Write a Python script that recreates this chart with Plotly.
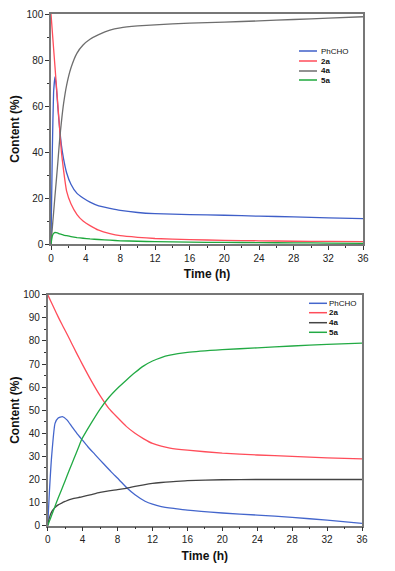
import plotly.graph_objects as go

# ---------------- data ----------------
series_names = ["PhCHO", "2a", "4a", "5a"]

# top panel
t_top = [0, 0.15, 0.3, 0.46, 0.6, 0.8, 1.0, 1.2, 1.45, 1.8, 2.3, 3, 3.7, 4.5, 5.5, 6.8,
         8, 10, 12, 16, 20, 24, 28, 32, 36]
top_phcho = [0, 40, 66, 72.7, 69, 59, 50, 43, 37, 31, 26, 22, 20, 18.2, 16.6, 15.5,
             14.6, 13.7, 13.2, 12.8, 12.5, 12.1, 11.8, 11.4, 11]
top_2a = [100, 92.5, 85, 77, 70, 60, 50, 40, 32, 23, 17.5, 12.8, 10, 8, 6, 4.5,
          3.6, 2.9, 2.4, 1.9, 1.6, 1.4, 1.2, 1.1, 1.0]
top_4a = [0, 7, 13.6, 21, 27, 36, 45.5, 53, 61, 69, 76.5, 83, 86.5, 89, 91, 93,
          94, 94.8, 95.3, 96, 96.5, 97, 97.6, 98.2, 98.8]
top_5a = [0, 3.5, 4.6, 5.0, 4.9, 4.7, 4.4, 4.2, 3.9, 3.6, 3.2, 2.8, 2.5, 2.2, 1.95, 1.65,
          1.4, 1.2, 1.0, 0.8, 0.7, 0.6, 0.5, 0.4, 0.3]

# bottom panel
t_bot_phcho = [0, 0.2, 0.45, 0.84, 1.2, 1.68, 2.2, 2.75, 3.3, 3.9, 4.6, 5.4, 6.4, 7.3, 8.2,
               9.05, 10, 11.15, 12, 13, 14.6, 16, 20, 24, 28, 32, 36]
bot_phcho = [0, 15, 30, 44.3, 46.6, 47.2, 45.8, 43, 40.2, 37.4, 34.2, 30.9, 26.8, 23.2,
             19.8, 16.4, 13.4, 10.6, 9.3, 8.3, 7.4, 6.7, 5.5, 4.6, 3.6, 2.4, 1.0]

t_bot = [0, 0.2, 0.45, 0.8, 1.2, 1.6, 2, 2.5, 3, 3.5, 3.9, 5, 6, 7, 8, 9, 10, 11, 12,
         13, 14, 16, 20, 24, 28, 32, 36]
bot_2a = [100, 98.4, 96.4, 93.6, 90.4, 87.4, 84.5, 80.8, 77, 73.3, 70.4, 62.7, 56.3,
          50.8, 46.8, 43, 40, 37.6, 35.6, 34.4, 33.6, 32.7, 31.4, 30.6, 30, 29.4, 28.9]
bot_4a = [0, 3.5, 6, 7.7, 9, 9.8, 10.5, 11.3, 11.8, 12.2, 12.5, 13.5, 14.4, 15.1, 15.6,
          16.2, 17, 17.7, 18.3, 18.7, 19.0, 19.5, 19.9, 20, 20, 20, 20]
bot_5a = [0, 2, 4.5, 8, 12, 15.7, 19.5, 24.3, 29, 33.6, 37.4, 44.5, 50.5, 55.5, 59.5,
          63, 66.3, 69.2, 71.3, 72.8, 73.8, 75, 76.2, 77, 77.8, 78.5, 79]

x_ticks = [0, 4, 8, 12, 16, 20, 24, 28, 32, 36]

# ---------------- styling ----------------
PAGE_OFF = 8          # default page margin around the figure
W, H = 395 - PAGE_OFF, 571 - PAGE_OFF
colors_top = ["#3f5fc8", "#ff4d5a", "#6e6e6e", "#1ea83c"]
colors_bot = ["#4466cc", "#ff4d5a", "#444444", "#22aa44"]
FONT = "Liberation Sans, Arial, sans-serif"


def px_x(p):
    return (p - PAGE_OFF) / W


def px_y(p):
    return 1 - (p - PAGE_OFF) / H


fig = go.Figure()

top_vals = [top_phcho, top_2a, top_4a, top_5a]
bot_series = [(t_bot_phcho, bot_phcho), (t_bot, bot_2a), (t_bot, bot_4a), (t_bot, bot_5a)]

for name, vals, col in zip(series_names, top_vals, colors_top):
    fig.add_trace(go.Scatter(x=t_top, y=vals, name=name, mode="lines",
                             line=dict(color=col, width=1.3, shape="spline", smoothing=0.4),
                             xaxis="x", yaxis="y", showlegend=False))
for name, (tt, vals), col in zip(series_names, bot_series, colors_bot):
    fig.add_trace(go.Scatter(x=tt, y=vals, name=name, mode="lines",
                             line=dict(color=col, width=1.3, shape="spline", smoothing=0.5),
                             xaxis="x2", yaxis="y2", showlegend=False))

axis_common = dict(showgrid=False, zeroline=False, showline=True, mirror=True,
                   linecolor="#777", linewidth=1.5, ticks="outside", ticklen=4,
                   tickcolor="#333", tickwidth=1, automargin=False,
                   tickfont=dict(family=FONT, size=10, color="#222"))

title_font = dict(family=FONT, size=12, color="#111")

fig.update_layout(
    width=W, height=H, autosize=False,
    margin=dict(l=0, r=0, t=0, b=0),
    paper_bgcolor="white", plot_bgcolor="white",
    xaxis=dict(domain=[px_x(51), px_x(363)], range=[0, 36], anchor="y",
               tickvals=x_ticks, minor=dict(ticks="outside", dtick=2, ticklen=2, tickcolor="#333"),
               title=dict(text="<b>Time (h)</b>", font=title_font, standoff=7),
               **axis_common),
    yaxis=dict(domain=[px_y(244), px_y(14)], range=[0, 100], anchor="x",
               dtick=20, minor=dict(ticks="outside", dtick=10, ticklen=2, tickcolor="#333"),
               title=dict(text="<b>Content (%)</b>", font=title_font, standoff=6),
               **axis_common),
    xaxis2=dict(domain=[px_x(47.7), px_x(362)], range=[0, 36], anchor="y2",
                tickvals=x_ticks, minor=dict(ticks="outside", dtick=2, ticklen=2, tickcolor="#333"),
                title=dict(text="<b>Time (h)</b>", font=title_font, standoff=7),
                **axis_common),
    yaxis2=dict(domain=[px_y(525.7), px_y(294.7)], range=[0, 100], anchor="x2",
                dtick=10, minor=dict(ticks="outside", dtick=5, ticklen=2, tickcolor="#333"),
                title=dict(text="<b>Content (%)</b>", font=title_font, standoff=6),
                **axis_common),
)

# ---------------- custom compact legends ----------------
def add_legend(x0, x1, xt, ys, colors):
    for name, col, y in zip(series_names, colors, ys):
        fig.add_shape(type="line", xref="paper", yref="paper",
                      x0=px_x(x0), x1=px_x(x1), y0=px_y(y), y1=px_y(y),
                      line=dict(color=col, width=1.5))
        label = name if name == "PhCHO" else "<b>%s</b>" % name
        fig.add_annotation(xref="paper", yref="paper", x=px_x(xt), y=px_y(y),
                           text=label, showarrow=False, xanchor="left", yanchor="middle",
                           font=dict(family=FONT, size=8, color="#111"))


add_legend(299, 317, 319, [51, 61, 71, 80], colors_top)
add_legend(309, 327, 327, [303.3, 312.7, 322.7, 332.3], colors_bot)

fig.write_html("out.html")
